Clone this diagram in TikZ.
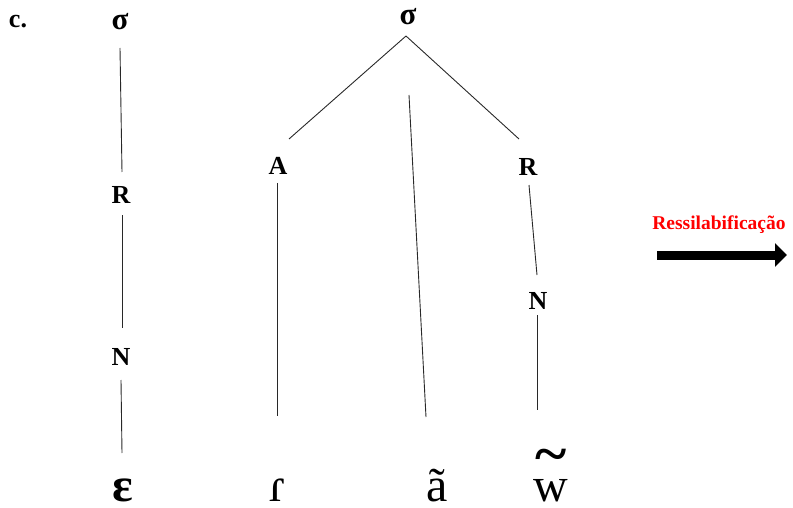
\documentclass[tikz,border=0pt]{standalone}
\usepackage{fontspec}
\setmainfont{Liberation Serif}
\usetikzlibrary{positioning,arrows.meta,calc}
\definecolor{treeLine}{RGB}{40,40,40}
\definecolor{procRed}{RGB}{255,0,0}
\tikzset{
  lab/.style={inner sep=0pt, font=\fontsize{26}{30}\selectfont\bfseries},
  syl/.style={inner sep=0pt, font=\fontsize{31}{34}\selectfont\bfseries},
  seg/.style={inner sep=0pt, anchor=base, font=\fontsize{48}{52}\selectfont},
  branch/.style={draw=treeLine, line width=0.9pt},
  proc/.style={inner sep=0pt, text=procRed, font=\fontsize{19.5}{22}\selectfont\bfseries},
  resyl/.style={-{Triangle[length=12pt, width=23pt]}, line width=9pt, draw=black},
}

\begin{document}
\begin{tikzpicture}[x=1pt, y=-1pt]
  \useasboundingbox (0,0) rectangle (793,508);
  \node[lab] (tag) at (18,22) {c.};
  \node[syl] (s1) at (120,22) {σ};
  \node[lab] (r1) at (121,195) {R};
  \node[lab] (n1) at (121,357) {N};
  \node[seg, font=\fontsize{48}{52}\selectfont\bfseries] (eps) at (123,501) {ɛ};
  \node[syl] (s2) at (408,17) {σ};
  \node[lab] (a1) at (278,166) {A};
  \node[lab] (r2) at (528,167) {R};
  \node[lab] (n2) at (538,301) {N};
  \node[seg] (tap) at (277,501) {ɾ};
  \node[seg] (anas) at (437,501) {ã};
  \node[seg] (wnas) at (551,501) {\ooalign{w\cr\hidewidth\raisebox{29pt}{\scalebox{1.25}[1.15]{\bfseries\char"7E}}\hidewidth\cr}};
  \draw[branch] ($(s1)+(0,26)$) -- ($(r1)+(1,-23)$);
  \draw[branch] ($(r1)+(1,20)$) -- ($(n1)+(1,-29)$);
  \draw[branch] ($(n1)+(0,23)$) -- ($(eps.base)+(-1,-48)$);
  \draw[branch] ($(s2)+(-2,19)$) -- ($(a1)+(11,-27)$);
  \draw[branch] ($(s2)+(-2,19)$) -- ($(r2)+(-9,-28)$);
  \draw[branch] ($(s2)+(1,78)$) -- ($(anas.base)+(-11,-84)$);
  \draw[branch] ($(a1)+(-1,17)$) -- ($(tap.base)+(0,-85)$);
  \draw[branch] ($(r2)+(1,18)$) -- ($(n2)+(-1,-26)$);
  \draw[branch] ($(n2)+(-1,14)$) -- ($(wnas.base)+(-14,-91)$);
  \node[proc] (resyl) at (719,225) {Ressilabificação};
  \coordinate (arrS) at (657,255);
  \coordinate (arrE) at (787,255);
  \draw[resyl] (arrS) -- (arrE);
\end{tikzpicture}
\end{document}
